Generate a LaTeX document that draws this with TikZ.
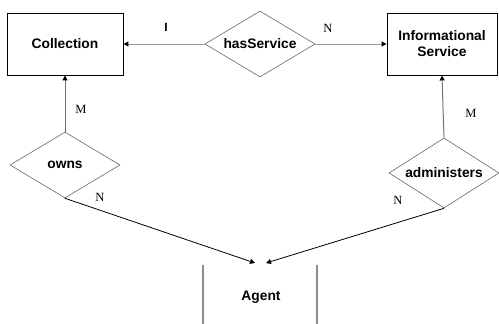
\documentclass[tikz,border=0pt]{standalone}
\usepackage{fontspec}
\setmainfont{Liberation Sans}
\newfontfamily\serifl{Liberation Serif}
\usetikzlibrary{shapes.geometric,arrows.meta}
\begin{document}
\begin{tikzpicture}[x=1pt,y=-1pt,
  entity/.style={draw=black,line width=0.9pt,rectangle,inner sep=0pt,
    minimum width=#1,minimum height=62pt,align=center,
    font=\fontsize{13.8}{16}\selectfont\bfseries},
  relation/.style={draw=black!60,line width=0.6pt,diamond,inner sep=0pt,
    minimum width=110pt,minimum height=66pt,shape aspect=1.67,
    font=\fontsize{13.8}{16}\selectfont\bfseries},
  card/.style={font=\fontsize{12.5}{14}\selectfont\serifl},
  tip/.style={-{Triangle[length=5pt,width=5pt,color=black]}},
  grayline/.style={tip,draw=black!40,line width=1pt},
  darkline/.style={tip,draw=black,line width=0.8pt}]
\useasboundingbox (0,0) rectangle (499,324);
\node[entity=116pt] (coll) at (65,44) {Collection};
\node[entity=110pt] (info) at (442,44) {Informational\\Service};
\node[relation] (has) at (260,44) {hasService};
\node[relation] (owns) at (65,165) {owns};
\node[relation,minimum height=70pt] (adm) at (444,173) {administers};
\node[font=\fontsize{13.8}{16}\selectfont\bfseries] (agent) at (261,297) {Agent};
\coordinate (agl) at (255,263);
\coordinate (agr) at (266,263);
\coordinate (lt) at (203,265);
\coordinate (lb) at (203,324);
\coordinate (rt) at (317,265);
\coordinate (rb) at (317,324);
\draw[black!45,line width=1.2pt] (lt) -- (lb);
\draw[black!45,line width=1.2pt] (rt) -- (rb);
\draw[grayline] (has.west) -- (coll.east);
\draw[grayline] (has.east) -- (info.west);
\draw[grayline,draw=black!55] (owns.north) -- (coll.south);
\draw[grayline,draw=black!55] (adm.north) -- (info.south);
\draw[darkline] (owns.south) -- (agl);
\draw[darkline] (adm.south) -- (agr);
\node[font=\fontsize{12}{14}\selectfont\bfseries] (lI) at (166,27) {I};
\node[card] (lN1) at (328,28) {N};
\node[card] (lM1) at (81,109) {M};
\node[card] (lM2) at (471,113) {M};
\node[card] (lN2) at (100,197) {N};
\node[card] (lN3) at (398,200) {N};
\end{tikzpicture}
\end{document}
